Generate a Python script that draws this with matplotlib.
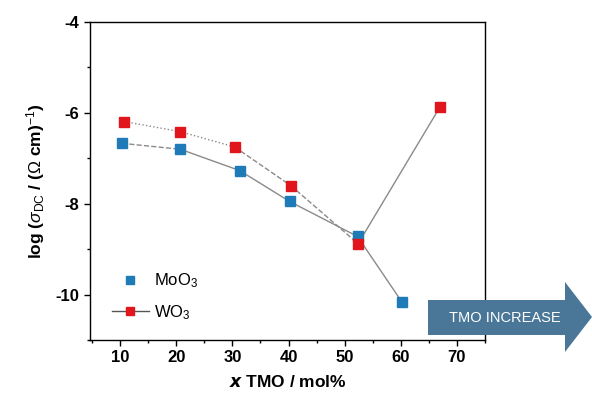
import matplotlib
matplotlib.use("Agg")
import matplotlib.pyplot as plt
from matplotlib.patches import Polygon
from matplotlib.ticker import MultipleLocator

plt.rcParams['font.family'] = ['Liberation Sans', 'DejaVu Sans']
plt.rcParams['mathtext.fontset'] = 'custom'
plt.rcParams['mathtext.rm'] = 'Liberation Sans'
plt.rcParams['mathtext.it'] = 'Liberation Sans:italic'
plt.rcParams['mathtext.bf'] = 'Liberation Sans:bold'
plt.rcParams['axes.unicode_minus'] = False

# data
moo3_x = [10.3, 20.7, 31.3, 40.2, 52.3, 60.2]
moo3_y = [-6.67, -6.80, -7.27, -7.95, -8.72, -10.16]
wo3_x = [10.7, 20.6, 30.4, 40.4, 52.4, 67.0]
wo3_y = [-6.19, -6.41, -6.75, -7.60, -8.88, -5.87]
moo3_styles = ['--', '-', '-', '-', '-']
wo3_styles = [':', ':', '--', '--', '-']
x_ticks = [10, 20, 30, 40, 50, 60, 70]
y_ticks = [-4, -6, -8, -10]

BLUE = '#1f7ab8'
RED = '#e0161c'
LINE = '#8a8a8a'

fig = plt.figure(figsize=(5.92, 3.94), dpi=100)
ax = fig.add_axes([0.152, 0.137, 0.667, 0.807])

for i, ls in enumerate(moo3_styles):
    ax.plot(moo3_x[i:i + 2], moo3_y[i:i + 2], color=LINE, lw=1.0, ls=ls, zorder=1)
for i, ls in enumerate(wo3_styles):
    ax.plot(wo3_x[i:i + 2], wo3_y[i:i + 2], color=LINE, lw=1.0, ls=ls, zorder=1)

ax.plot(moo3_x, moo3_y, ls='none', marker='s', ms=7, color=BLUE, zorder=3)
ax.plot(wo3_x, wo3_y, ls='none', marker='s', ms=7, color=RED, zorder=3)
h1, = ax.plot([], [], ls='none', marker='s', ms=5.5, color=BLUE, label='MoO$_3$')
h2, = ax.plot([], [], ls='-', color='#555555', lw=1.0, marker='s', ms=5.5, mfc=RED, mec=RED, label='WO$_3$')

ax.set_xlim(4.6, 75)
ax.set_ylim(-11, -4)
ax.set_xticks(x_ticks)
ax.set_yticks(y_ticks)
ax.xaxis.set_minor_locator(MultipleLocator(5))
ax.yaxis.set_minor_locator(MultipleLocator(1))
ax.tick_params(which='major', direction='out', length=4, width=1, labelsize=12)
ax.tick_params(which='minor', direction='out', length=2.5, width=1)
for lab in ax.get_xticklabels() + ax.get_yticklabels():
    lab.set_fontweight('bold')
for s in ax.spines.values():
    s.set_linewidth(1.0)

ax.set_xlabel(r'$\mathbfit{x}$ TMO / mol%', fontsize=12.5, fontweight='bold', labelpad=6)
ax.set_ylabel(r'log ($\mathit{\sigma}_{\rm DC}$ / ($\Omega$ cm)$^{-1}$)', fontsize=12.5, fontweight='bold', labelpad=6)

leg = ax.legend(handles=[h1, h2], loc='upper left', bbox_to_anchor=(0.056, 0.215), frameon=False,
                borderpad=0, borderaxespad=0,
                fontsize=12, handlelength=2.2, handletextpad=0.3, labelspacing=0.75)

# arrow
arrow_pts = [(428, 300), (565, 300), (565, 282), (592, 317), (565, 352), (565, 335), (428, 335)]
poly = Polygon([(x / 592, 1 - y / 394) for x, y in arrow_pts], closed=True,
               transform=fig.transFigure, facecolor='#4a7797', edgecolor='none', clip_on=False)
fig.patches.append(poly)
fig.text(505 / 592, 1 - 318 / 394, 'TMO INCREASE', color='white', fontsize=10.5,
         ha='center', va='center')

fig.savefig('out.png', dpi=100)
